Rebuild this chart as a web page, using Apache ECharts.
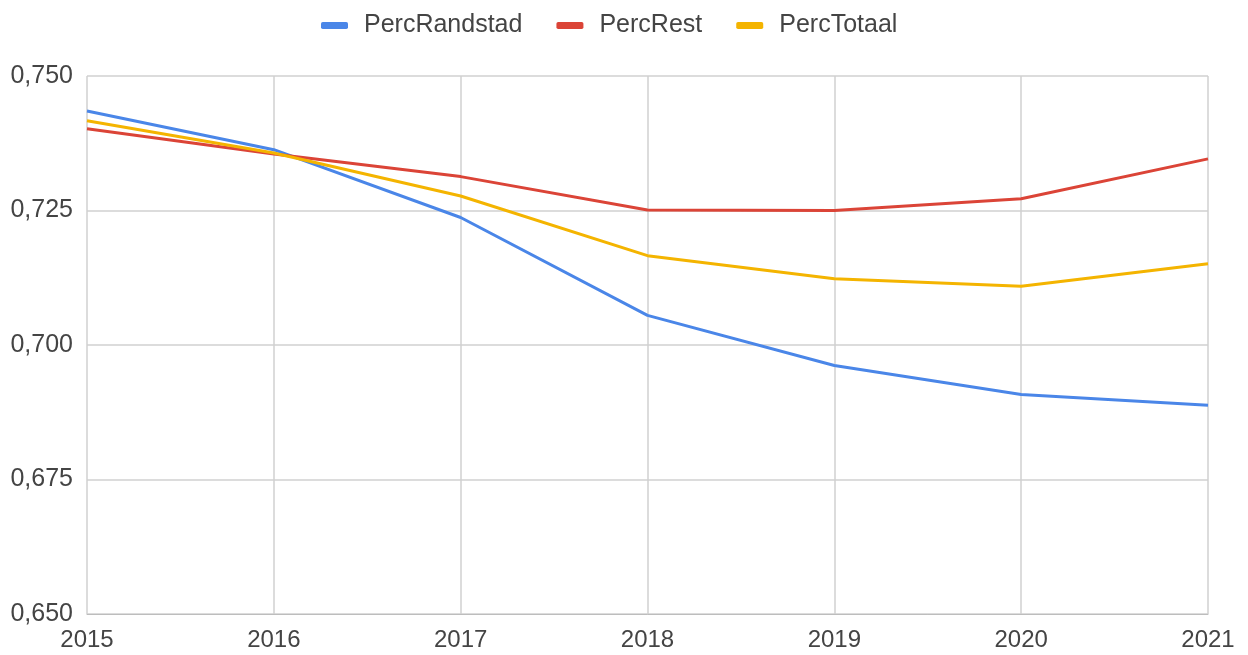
<!DOCTYPE html>
<html><head><meta charset="utf-8">
<script src="https://cdn.jsdelivr.net/npm/echarts@6/dist/echarts.min.js"></script>
<style>html,body{margin:0;padding:0;background:#fff}#c{width:1248px;height:655px}</style>
</head><body><div id="c"></div>
<script>
const years = ['2015','2016','2017','2018','2019','2020','2021'];
const percRandstad = [0.7435, 0.7363, 0.7237, 0.7055, 0.6962, 0.6908, 0.6888];
const percRest = [0.7402, 0.7355, 0.7313, 0.7251, 0.7250, 0.7272, 0.7346];
const percTotaal = [0.7417, 0.7357, 0.7277, 0.7166, 0.7123, 0.7109, 0.7151];
const seriesNames = ['PercRandstad','PercRest','PercTotaal'];
const colors = ['#4a86e8','#db4437','#f4b400'];
const FONT = '"Liberation Sans", Arial, sans-serif';
const chart = echarts.init(document.getElementById('c'));
const mk = (name, data, color) => ({
  name, type: 'line', data, symbol: 'none', smooth: false,
  lineStyle: { width: 3, color }, itemStyle: { color }
});
chart.setOption({
  animation: false,
  legend: {
    top: 8, left: 316, itemWidth: 27, itemHeight: 7, itemGap: 34,
    icon: 'roundRect',
    textStyle: { fontFamily: FONT, fontSize: 25, color: '#444', padding: [0, 0, 0, 11] },
    data: seriesNames
  },
  grid: { left: 87, right: 40, top: 76, bottom: 41, containLabel: false },
  xAxis: {
    type: 'category', data: years, boundaryGap: false,
    axisLine: { lineStyle: { color: '#bdbdbd' } },
    axisTick: { show: false },
    axisLabel: { fontFamily: FONT, fontSize: 24, color: '#444', margin: 14 },
    splitLine: { show: true, lineStyle: { color: '#d0d0d0', width: 1.5 } }
  },
  yAxis: {
    type: 'value', min: 0.65, max: 0.75, interval: 0.025,
    axisLine: { show: false }, axisTick: { show: false },
    axisLabel: { fontFamily: FONT, fontSize: 25, color: '#444', margin: 14,
      formatter: v => v.toFixed(3).replace('.', ',') },
    splitLine: { lineStyle: { color: '#d0d0d0', width: 1.5 } }
  },
  series: [
    mk(seriesNames[0], percRandstad, colors[0]),
    mk(seriesNames[1], percRest, colors[1]),
    mk(seriesNames[2], percTotaal, colors[2])
  ]
});
</script></body></html>
